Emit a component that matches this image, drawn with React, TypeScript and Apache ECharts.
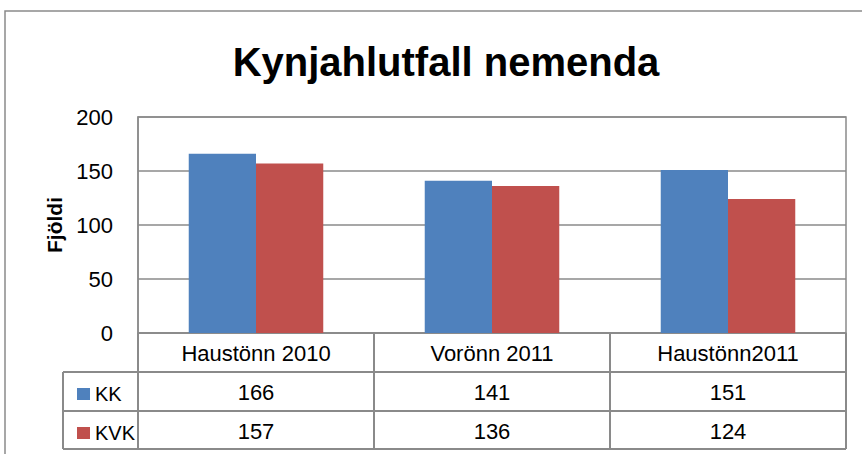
import React, { useEffect, useRef } from "react";
import * as echarts from "echarts";

const categories = ["Haustönn 2010", "Vorönn 2011", "Haustönn2011"];
const seriesNames = ["KK", "KVK"];
const kkValues = [166, 141, 151];
const kvkValues = [157, 136, 124];
const yTicks = { min: 0, max: 200, interval: 50 };

const FONT = "Liberation Sans";
const LINE = "#8a8a8a";
const BLUE = "#4F81BD";
const RED = "#C0504D";

export default function App() {
  const ref = useRef<HTMLDivElement>(null);
  useEffect(() => {
    if (!ref.current) return;
    const chart = echarts.init(ref.current, null, { renderer: "svg" });
    const gridLeft = 138, gridTop = 117, gridRight = 846, gridBottom = 333;
    const rowH = 39;
    const tableLeft = 63;
    const labelStyle = { fontFamily: FONT, fontSize: 22, color: "#000", lineHeight: 22, margin: 9 };
    const valueAxis = (offset: number, vals: number[]) => ({
      type: "category",
      data: categories,
      position: "bottom",
      offset,
      axisLine: { show: false },
      axisTick: { show: false },
      axisLabel: { ...labelStyle, interval: 0, formatter: (_v: string, i: number) => String(vals[i]) },
    });
    chart.setOption({
      animation: false,
      backgroundColor: "#fff",
      title: {
        text: "Kynjahlutfall nemenda",
        left: 441,
        top: 37,
        textAlign: "center",
        textStyle: { fontFamily: FONT, fontSize: 40, fontWeight: "bold", color: "#000" },
      },
      legend: {
        orient: "vertical",
        left: 72,
        top: gridBottom + rowH + 6,
        itemWidth: 13,
        itemHeight: 12,
        itemGap: 17,
        icon: "rect",
        data: seriesNames,
        textStyle: { fontFamily: FONT, fontSize: 20, color: "#000", lineHeight: 22 },
      },
      grid: {
        left: gridLeft,
        top: gridTop,
        width: gridRight - gridLeft,
        height: gridBottom - gridTop,
        show: true,
        borderColor: LINE,
        borderWidth: 1.5,
      },
      xAxis: [
        {
          type: "category",
          data: categories,
          axisLine: { show: true, lineStyle: { color: LINE, width: 1.5 } },
          axisTick: { show: true, length: rowH * 3 - 1, lineStyle: { color: LINE, width: 2 } },
          axisLabel: { ...labelStyle, interval: 0 },
        },
        valueAxis(rowH, kkValues),
        valueAxis(rowH * 2, kvkValues),
      ],
      yAxis: {
        type: "value",
        min: yTicks.min,
        max: yTicks.max,
        interval: yTicks.interval,
        name: "Fjöldi",
        nameLocation: "middle",
        nameRotate: 90,
        nameGap: 73,
        nameTextStyle: { fontFamily: FONT, fontSize: 21, fontWeight: "bold", color: "#000" },
        axisLine: { show: true, lineStyle: { color: LINE, width: 1.5 } },
        axisTick: { show: false },
        axisLabel: { fontFamily: FONT, fontSize: 22, color: "#000", margin: 25 },
        splitLine: { show: true, lineStyle: { color: LINE, width: 1.5 } },
      },
      series: [
        {
          name: seriesNames[0],
          type: "bar",
          data: kkValues,
          itemStyle: { color: BLUE },
          barGap: "0%",
          barCategoryGap: "43%",
        },
        {
          name: seriesNames[1],
          type: "bar",
          data: kvkValues,
          itemStyle: { color: RED },
          barGap: "0%",
          barCategoryGap: "43%",
        },
      ],
      graphic: [
        { type: "rect", shape: { x: 5, y: 11, width: 900, height: 500 }, style: { fill: "none", stroke: LINE, lineWidth: 1.5 }, silent: true },
        { type: "line", shape: { x1: tableLeft, y1: gridBottom + rowH, x2: gridRight, y2: gridBottom + rowH }, style: { stroke: LINE, lineWidth: 2 } },
        { type: "line", shape: { x1: tableLeft, y1: gridBottom + rowH * 2, x2: gridRight, y2: gridBottom + rowH * 2 }, style: { stroke: LINE, lineWidth: 2 } },
        { type: "line", shape: { x1: tableLeft, y1: gridBottom + rowH * 3 - 1, x2: gridRight, y2: gridBottom + rowH * 3 - 1 }, style: { stroke: LINE, lineWidth: 2 } },
        { type: "line", shape: { x1: tableLeft, y1: gridBottom + rowH, x2: tableLeft, y2: gridBottom + rowH * 3 - 1 }, style: { stroke: LINE, lineWidth: 2 } },
      ],
    });
    return () => chart.dispose();
  }, []);
  return <div ref={ref} style={{ position: "fixed", left: 0, top: 0, width: 862, height: 454 }} />;
}
